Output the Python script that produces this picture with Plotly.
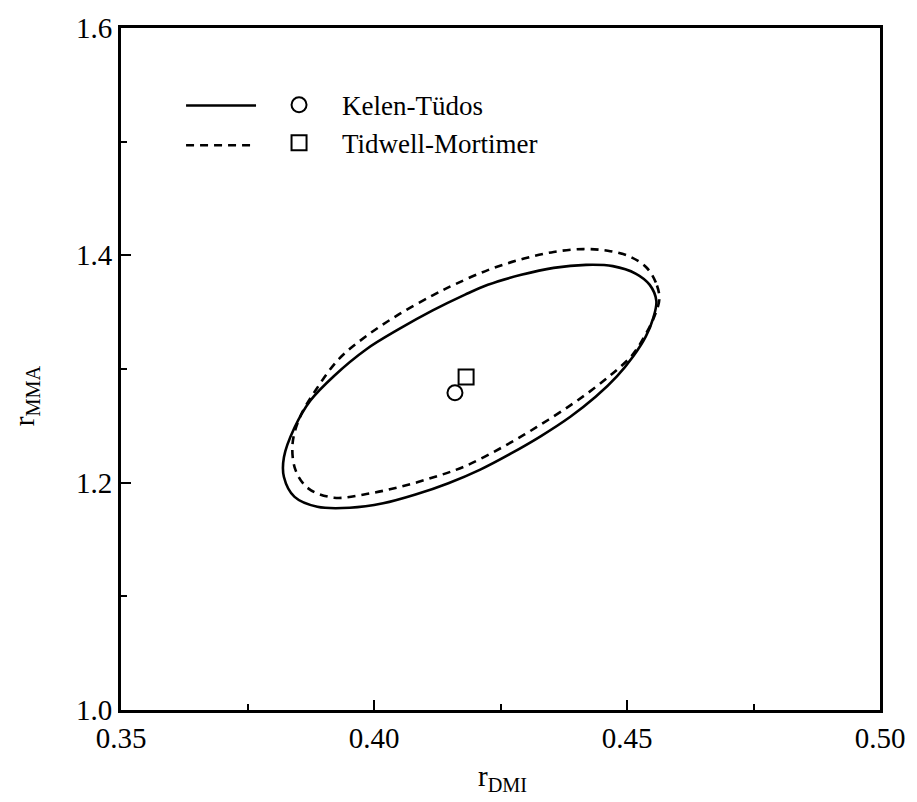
import plotly.graph_objects as go

# ---- data ----
# Kelen-Tüdos confidence contour (solid)
kt_x = [0.4558, 0.4545, 0.4517, 0.4472, 0.4419, 0.4355, 0.4291, 0.4225, 0.4180, 0.4116,
        0.4049, 0.3985, 0.3921, 0.3874, 0.3843, 0.3822, 0.3822, 0.3843, 0.3888, 0.3952,
        0.4018, 0.4082, 0.4147, 0.4210, 0.4270, 0.4330, 0.4388, 0.4438, 0.4480, 0.4512,
        0.4537, 0.4552, 0.4558]
kt_y = [1.3600, 1.3740, 1.3840, 1.3905, 1.3916, 1.3890, 1.3829, 1.3741, 1.3654, 1.3515,
        1.3350, 1.3174, 1.2939, 1.2721, 1.2485, 1.2224, 1.2050, 1.1875, 1.1788, 1.1779,
        1.1818, 1.1895, 1.1995, 1.2115, 1.2255, 1.2410, 1.2580, 1.2755, 1.2935, 1.3110,
        1.3285, 1.3450, 1.3600]

# Tidwell-Mortimer confidence contour (dashed)
tm_x = [0.4564, 0.4557, 0.4538, 0.4505, 0.4462, 0.4414, 0.4355, 0.4291, 0.4225, 0.4160,
        0.4116, 0.4049, 0.3985, 0.3930, 0.3885, 0.3853, 0.3839, 0.3845, 0.3870, 0.3921,
        0.3985, 0.4049, 0.4116, 0.4180, 0.4255, 0.4322, 0.4388, 0.4435, 0.4474, 0.4510,
        0.4535, 0.4554, 0.4564]
tm_y = [1.3619, 1.3760, 1.3895, 1.3990, 1.4040, 1.4055, 1.4030, 1.3965, 1.3870, 1.3745,
        1.3648, 1.3480, 1.3290, 1.3085, 1.2815, 1.2570, 1.2340, 1.2110, 1.1950, 1.1868,
        1.1900, 1.1960, 1.2045, 1.2145, 1.2315, 1.2490, 1.2680, 1.2830, 1.2970, 1.3120,
        1.3290, 1.3462, 1.3619]

# point estimates
kt_point = (0.4160, 1.2791)
tm_point = (0.4182, 1.2930)

series_names = ["Kelen-Tüdos", "Tidwell-Mortimer"]
x_ticks = [0.35, 0.40, 0.45, 0.50]
y_ticks = [1.0, 1.2, 1.4, 1.6]

FONT = "Liberation Serif, Times New Roman, serif"

fig = go.Figure()

fig.add_trace(go.Scatter(x=kt_x, y=kt_y, mode="lines", showlegend=False,
                         line=dict(color="black", width=2.6, shape="spline", smoothing=1)))
fig.add_trace(go.Scatter(x=tm_x, y=tm_y, mode="lines", showlegend=False,
                         line=dict(color="black", width=2.6, dash="8px,6px",
                                   shape="spline", smoothing=1)))
fig.add_trace(go.Scatter(x=[kt_point[0]], y=[kt_point[1]], mode="markers",
                         name=series_names[0],
                         marker=dict(symbol="circle-open", size=15, color="black",
                                     line=dict(width=2, color="black"))))
fig.add_trace(go.Scatter(x=[tm_point[0]], y=[tm_point[1]], mode="markers",
                         name=series_names[1],
                         marker=dict(symbol="square-open", size=15, color="black",
                                     line=dict(width=2, color="black"))))

L, R, T, B = 121, 26, 24, 92
W, H = 917, 802
pw, ph = W - L - R, H - T - B


def px_x(px):
    return (px - L) / pw


def px_y(py):
    return (H - B - py) / ph


# legend line samples
fig.add_shape(type="line", xref="paper", yref="paper",
              x0=px_x(187), x1=px_x(258), y0=px_y(102), y1=px_y(102),
              line=dict(color="black", width=2.4))
fig.add_shape(type="line", xref="paper", yref="paper",
              x0=px_x(187), x1=px_x(258), y0=px_y(142), y1=px_y(142),
              line=dict(color="black", width=2.4, dash="8px,6px"))

fig.add_annotation(text="r<sub>DMI</sub>", xref="paper", yref="paper",
                   x=px_x(508), y=px_y(778), showarrow=False,
                   xanchor="center", yanchor="middle",
                   font=dict(family=FONT, size=29, color="black"))
fig.add_annotation(text="r<sub>MMA</sub>", xref="paper", yref="paper",
                   x=px_x(24), y=px_y(394), showarrow=False, textangle=-90,
                   xanchor="center", yanchor="middle",
                   font=dict(family=FONT, size=29, color="black"))

axis_common = dict(showline=True, linecolor="black", linewidth=2.8, mirror=True,
                   ticks="inside", ticklen=10, tickwidth=2, tickcolor="black",
                   showgrid=False, zeroline=False,
                   tickfont=dict(family=FONT, size=29, color="black"))

fig.update_xaxes(range=[0.35, 0.50], tickvals=x_ticks,
                 ticktext=[f"{v:.2f}" for v in x_ticks],
                 minor=dict(dtick=0.025, tick0=0.35, ticks="inside", ticklen=6,
                            tickwidth=1.5, tickcolor="black"),
                 **axis_common)
fig.update_yaxes(range=[1.0, 1.6], tickvals=y_ticks,
                 ticktext=[f"{v:.1f}" for v in y_ticks],
                 minor=dict(dtick=0.1, tick0=1.0, ticks="inside", ticklen=6,
                            tickwidth=1.5, tickcolor="black"),
                 **axis_common)

fig.update_layout(
    width=W, height=H,
    margin=dict(l=L, r=R, t=T, b=B, pad=0),
    paper_bgcolor="white", plot_bgcolor="white",
    font=dict(family=FONT, size=27, color="black"),
    legend=dict(x=px_x(258), y=px_y(77), xanchor="left", yanchor="top",
                bgcolor="rgba(0,0,0,0)", borderwidth=0, itemwidth=76,
                font=dict(family=FONT, size=27, color="black"),
                tracegroupgap=0, itemclick=False),
)

fig.write_html("out.html")
